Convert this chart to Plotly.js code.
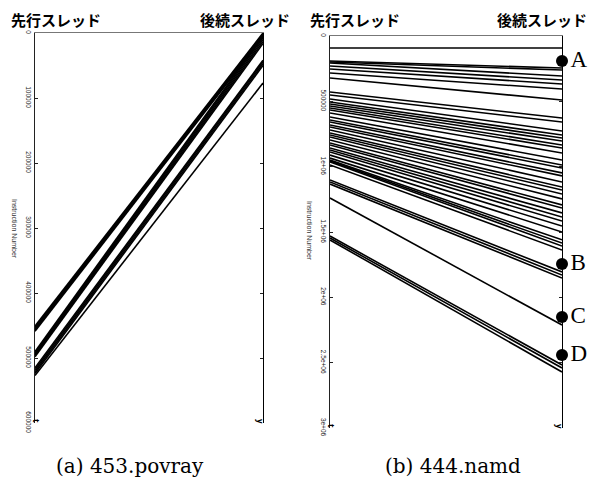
<!DOCTYPE html>
<html>
<head>
<meta charset="utf-8">
<script src="https://cdn.plot.ly/plotly-3.0.1.min.js"></script>
<style>html,body{margin:0;padding:0;background:#fff;}#chart{width:598px;height:482px;}</style>
</head>
<body>
<div id="chart"></div>
<script>
// ---- data (Instruction Number) ----
// (a) 453.povray : 先行スレッド -> 後続スレッド
const povrayLead   = [451000, 453000, 455000, 457000, 459000, 490000, 492000, 494000, 496000, 498000, 515000, 518000, 521000, 524000, 527000];
const povrayFollow = [0, 1500, 3000, 4500, 6000, 4000, 7000, 10000, 13000, 16000, 42000, 44000, 47000, 50000, 77000];

// (b) 444.namd
const namdLead = [92000, 191000, 199000, 207000, 230000, 253000, 283000, 321000, 429000, 452000, 482000, 505000, 520000, 536000, 551000,
  566000, 589000, 620000, 643000, 658000, 681000, 696000, 719000, 742000, 758000, 773000, 796000, 819000, 834000, 857000, 872000,
  888000, 911000, 934000, 950000, 957000, 964000, 987000, 1102000, 1117000, 1133000, 1240000, 1531000, 1546000, 1561000];
const namdFollow = [92000, 245000, 260000, 306000, 337000, 367000, 406000, 490000, 628000, 658000, 727000, 758000, 781000, 804000, 834000,
  857000, 895000, 949000, 987000, 1010000, 1048000, 1071000, 1117000, 1156000, 1179000, 1209000, 1247000, 1293000, 1316000, 1354000, 1385000,
  1416000, 1454000, 1500000, 1560000, 1585000, 1607000, 1638000, 1806000, 1829000, 1852000, 2212000, 2518000, 2541000, 2571000];

const namdMarkLabels = ["A", "B", "C", "D"];
const namdMarkValues = [191000, 1745000, 2150000, 2441000];

const povrayTickVals = [0, 100000, 200000, 300000, 400000, 500000, 600000];
const povrayTickText = ["0", "100000", "200000", "300000", "400000", "500000", "600000"];
const namdTickVals = [0, 500000, 1000000, 1500000, 2000000, 2500000, 3000000];
const namdTickText = ["0", "500000", "1e+06", "1.5e+06", "2e+06", "2.5e+06", "3e+06"];

const axisNames = ["先行スレッド", "後続スレッド"];
const captions = ["(a) 453.povray", "(b) 444.namd"];
const yTitle = "Instruction Number";

// ---- build ----
function segs(a, b) {
  const xs = [], ys = [];
  for (let i = 0; i < a.length; i++) { xs.push(0, 1, null); ys.push(a[i], b[i], null); }
  return {xs, ys};
}
const W = 598, H = 482;
const px = v => v / W, py = v => 1 - v / H;

const sa = segs(povrayLead, povrayFollow);
const sb = segs(namdLead, namdFollow);

const traces = [
  {type: 'scatter', mode: 'lines', x: sa.xs, y: sa.ys, xaxis: 'x', yaxis: 'y',
   line: {color: '#000', width: 1.6}, hoverinfo: 'skip', connectgaps: false},
  {type: 'scatter', mode: 'lines', x: sb.xs, y: sb.ys, xaxis: 'x2', yaxis: 'y2',
   line: {color: '#000', width: 1.6}, hoverinfo: 'skip', connectgaps: false},
  {type: 'scatter', mode: 'markers+text', x: namdMarkValues.map(() => 1), y: namdMarkValues,
   xaxis: 'x2', yaxis: 'y2', text: namdMarkLabels, textposition: 'middle right',
   textfont: {family: 'Liberation Serif, serif', size: 23, color: '#000'},
   marker: {color: '#000', size: 12}, cliponaxis: false, hoverinfo: 'skip'}
];

const tickFont = {family: 'Liberation Sans, Arial, sans-serif', size: 6.5, color: '#222'};
function yAx(domain, range, tv, tt, anchor) {
  return {domain, range, anchor, showgrid: false, zeroline: false, showline: true, linecolor: '#222', linewidth: 1.2,
    ticks: 'inside', ticklen: 3, tickcolor: '#222', tickvals: tv, ticktext: tt, tickangle: 90, tickfont: tickFont,
    fixedrange: true};
}
function yAxR(domain, range, tv, overlay, anchor) {
  return {domain, range, anchor, overlaying: overlay, side: 'right', showgrid: false, zeroline: false, showline: true,
    linecolor: '#000', linewidth: 1.2, ticks: 'inside', ticklen: 3, tickcolor: '#222', tickvals: tv, showticklabels: false};
}
function xAx(domain, anchor) {
  return {domain, range: [0, 1], anchor, side: 'top', showline: true, linecolor: '#777', linewidth: 1.5,
    showgrid: false, zeroline: false, showticklabels: false, ticks: ''};
}

const domAx = [px(35), px(263)], domAy = [py(423), py(33)];
const domBx = [px(330), px(562)], domBy = [py(428), py(36)];

const jpFont = {family: 'Noto Sans CJK JP, sans-serif', size: 15, color: '#000', weight: 'bold'};
const capFont = {family: 'DejaVu Serif, serif', size: 20, color: '#000'};
const ttlFont = {family: 'Liberation Sans, sans-serif', size: 7, color: '#333'};
function paperText(text, x, y, font, angle) {
  return {text, xref: 'paper', yref: 'paper', x: px(x), y: py(y), xanchor: 'center', yanchor: 'middle',
    textangle: angle || 0, showarrow: false, font};
}
const annotations = [
  paperText(axisNames[0], 56, 20, jpFont),
  paperText(axisNames[1], 245, 20, jpFont),
  paperText(axisNames[0], 355, 20, jpFont),
  paperText(axisNames[1], 542, 20, jpFont),
  paperText(captions[0], 130, 466, capFont),
  paperText(captions[1], 453, 466, capFont),
  paperText(yTitle, 15, 229, ttlFont, 90),
  paperText(yTitle, 310, 231, ttlFont, 90),
  {text: '<b>t</b>', xref: 'x', yref: 'y', x: 0, y: 600000, textangle: 90, xshift: 2, yshift: 2, showarrow: false, font: {size: 8, color: '#000'}},
  {text: '<b>y</b>', xref: 'x', yref: 'y', x: 1, y: 600000, textangle: 90, xshift: -2, yshift: 2, showarrow: false, font: {size: 8, color: '#000'}},
  {text: '<b>t</b>', xref: 'x2', yref: 'y2', x: 0, y: 3000000, textangle: 90, xshift: 2, yshift: 2, showarrow: false, font: {size: 8, color: '#000'}},
  {text: '<b>y</b>', xref: 'x2', yref: 'y2', x: 1, y: 3000000, textangle: 90, xshift: -2, yshift: 2, showarrow: false, font: {size: 8, color: '#000'}}
];

const layout = {
  width: W, height: H, margin: {l: 0, r: 0, t: 0, b: 0}, showlegend: false,
  paper_bgcolor: '#fff', plot_bgcolor: '#fff',
  xaxis: xAx(domAx, 'y'),
  xaxis2: xAx(domBx, 'y2'),
  yaxis: yAx(domAy, [600000, 0], povrayTickVals, povrayTickText, 'x'),
  yaxis2: yAx(domBy, [3000000, 0], namdTickVals, namdTickText, 'x2'),
  yaxis3: yAxR(domAy, [600000, 0], povrayTickVals, 'y', 'x'),
  yaxis4: yAxR(domBy, [3000000, 0], namdTickVals, 'y2', 'x2'),
  annotations
};
traces.push({type: 'scatter', x: [0], y: [0], xaxis: 'x', yaxis: 'y3', mode: 'none', hoverinfo: 'skip'});
traces.push({type: 'scatter', x: [0], y: [0], xaxis: 'x2', yaxis: 'y4', mode: 'none', hoverinfo: 'skip'});

Plotly.newPlot('chart', traces, layout, {staticPlot: true});
</script>
</body>
</html>
